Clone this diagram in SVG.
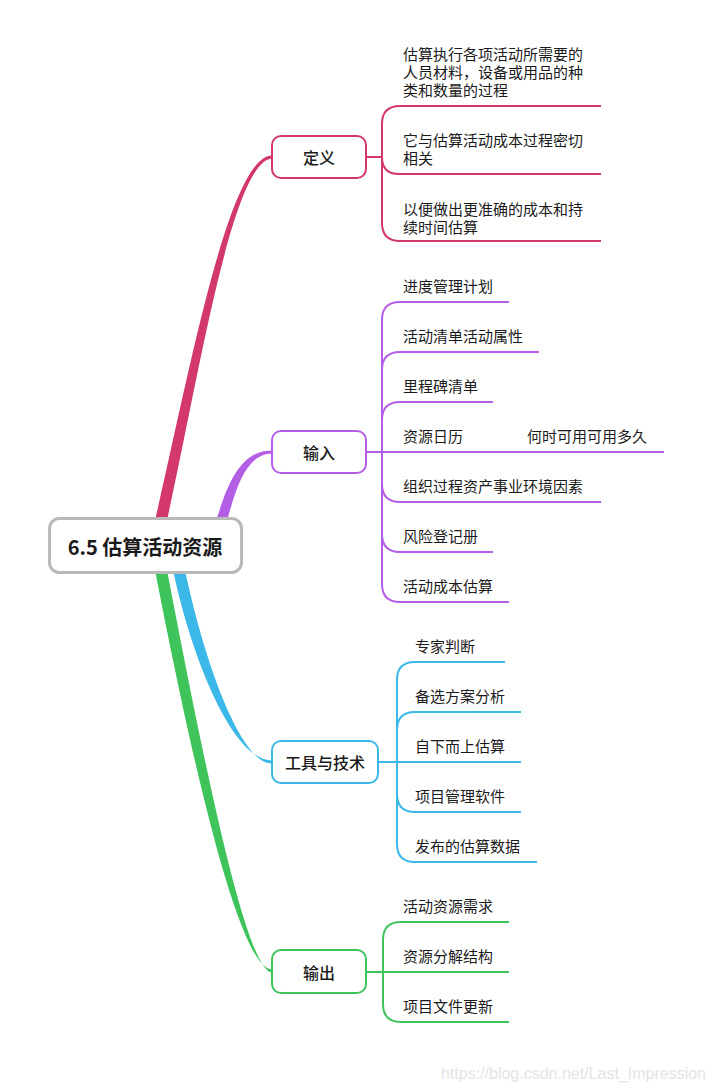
<svg xmlns="http://www.w3.org/2000/svg" width="714" height="1092" viewBox="0 0 714 1092">
<style>
text{font-family:"Noto Sans CJK SC","Liberation Sans",sans-serif;fill:#1a1a1a}
.leaf{font-size:15px}
.br{font-size:16px;font-weight:500}
.root{font-size:20px;font-weight:600}
.pk{stroke:#d2386c}.pu{stroke:#b45ee6}.bl{stroke:#3bb8e8}.gr{stroke:#3fc45c}
.ln{fill:none;stroke-width:2}
.box{fill:#fff;stroke-width:2}
</style>
<rect width="714" height="1092" fill="#fff"/>
<g id="connectors">
  <path d="M154,525 C190,369 229,156 272,155.5 L272,158.5 C232,162 200,371 166,525 Z" fill="#d2386c"/>
  <path d="M215,525 C228,480 242,450.5 272,450.5 L272,453.5 C248,454 237,482 226,525 Z" fill="#b45ee6"/>
  <path d="M172,565 C189,650 231,760.5 272,760.5 L272,763.5 C239,764 201,650 184,565 Z" fill="#3bb8e8"/>
  <path d="M154,565 C184,720 236,969.5 272,969.5 L272,972.5 C244,972 196,720 166,565 Z" fill="#3fc45c"/>
  <g class="ln pk">
    <path d="M366,157 H382"/>
    <path d="M382,157 V124 Q382,106 400,106 H601"/>
    <path d="M382,157 Q382,174 399,174 H601"/>
    <path d="M382,157 V223 Q382,241 400,241 H601"/>
  </g>
  <g class="ln pu">
    <path d="M366,452 H664"/>
    <path d="M382,452 V320 Q382,302 400,302 H509"/>
    <path d="M382,452 V370 Q382,352 400,352 H539"/>
    <path d="M382,452 V420 Q382,402 400,402 H493"/>
    <path d="M382,452 V484 Q382,502 400,502 H601"/>
    <path d="M382,452 V534 Q382,552 400,552 H493"/>
    <path d="M382,452 V584 Q382,602 400,602 H509"/>
  </g>
  <g class="ln bl">
    <path d="M378,762 H521"/>
    <path d="M397,762 V680 Q397,662 415,662 H505"/>
    <path d="M397,762 V730 Q397,712 415,712 H521"/>
    <path d="M397,762 V794 Q397,812 415,812 H521"/>
    <path d="M397,762 V844 Q397,862 415,862 H537"/>
  </g>
  <g class="ln gr">
    <path d="M366,972 H509"/>
    <path d="M383,972 V940 Q383,922 401,922 H509"/>
    <path d="M383,972 V1004 Q383,1022 401,1022 H509"/>
  </g>
</g>
<g id="root">
  <rect x="49.5" y="518.5" width="192" height="54" rx="10" fill="#fff" stroke="#b9b9b9" stroke-width="3"/>
  <text class="root" x="145" y="546" text-anchor="middle" dominant-baseline="central">6.5 估算活动资源</text>
</g>
<g id="n-def">
  <rect class="box pk" x="272" y="136" width="94" height="42" rx="9"/>
  <text class="br" x="319" y="157" text-anchor="middle" dominant-baseline="central">定义</text>
</g>
<g id="n-in">
  <rect class="box pu" x="272" y="431" width="94" height="42" rx="9"/>
  <text class="br" x="319" y="452" text-anchor="middle" dominant-baseline="central">输入</text>
</g>
<g id="n-tool">
  <rect class="box bl" x="272" y="741" width="106" height="42" rx="9"/>
  <text class="br" x="325" y="762" text-anchor="middle" dominant-baseline="central">工具与技术</text>
</g>
<g id="n-out">
  <rect class="box gr" x="272" y="950" width="94" height="43" rx="9"/>
  <text class="br" x="319" y="972" text-anchor="middle" dominant-baseline="central">输出</text>
</g>
<g id="leaves-def">
  <text class="leaf" dominant-baseline="central"><tspan x="403" y="53">估算执行各项活动所需要的</tspan><tspan x="403" y="71">人员材料，设备或用品的种</tspan><tspan x="403" y="89">类和数量的过程</tspan></text>
  <text class="leaf" dominant-baseline="central"><tspan x="403" y="139">它与估算活动成本过程密切</tspan><tspan x="403" y="157">相关</tspan></text>
  <text class="leaf" dominant-baseline="central"><tspan x="403" y="208">以便做出更准确的成本和持</tspan><tspan x="403" y="226">续时间估算</tspan></text>
</g>
<g id="leaves-in">
  <text class="leaf" x="403" y="285" dominant-baseline="central">进度管理计划</text>
  <text class="leaf" x="403" y="335" dominant-baseline="central">活动清单活动属性</text>
  <text class="leaf" x="403" y="385" dominant-baseline="central">里程碑清单</text>
  <text class="leaf" x="403" y="435" dominant-baseline="central">资源日历</text>
  <text class="leaf" x="527" y="435" dominant-baseline="central">何时可用可用多久</text>
  <text class="leaf" x="403" y="485" dominant-baseline="central">组织过程资产事业环境因素</text>
  <text class="leaf" x="403" y="535" dominant-baseline="central">风险登记册</text>
  <text class="leaf" x="403" y="585" dominant-baseline="central">活动成本估算</text>
</g>
<g id="leaves-tool">
  <text class="leaf" x="415" y="645" dominant-baseline="central">专家判断</text>
  <text class="leaf" x="415" y="695" dominant-baseline="central">备选方案分析</text>
  <text class="leaf" x="415" y="745" dominant-baseline="central">自下而上估算</text>
  <text class="leaf" x="415" y="795" dominant-baseline="central">项目管理软件</text>
  <text class="leaf" x="415" y="845" dominant-baseline="central">发布的估算数据</text>
</g>
<g id="leaves-out">
  <text class="leaf" x="403" y="905" dominant-baseline="central">活动资源需求</text>
  <text class="leaf" x="403" y="955" dominant-baseline="central">资源分解结构</text>
  <text class="leaf" x="403" y="1005" dominant-baseline="central">项目文件更新</text>
</g>
<text x="706" y="1079" text-anchor="end" style="font-family:'Liberation Sans',sans-serif;font-size:16px;fill:#e4e4e4">https://blog.csdn.net/Last_Impression</text>
</svg>
